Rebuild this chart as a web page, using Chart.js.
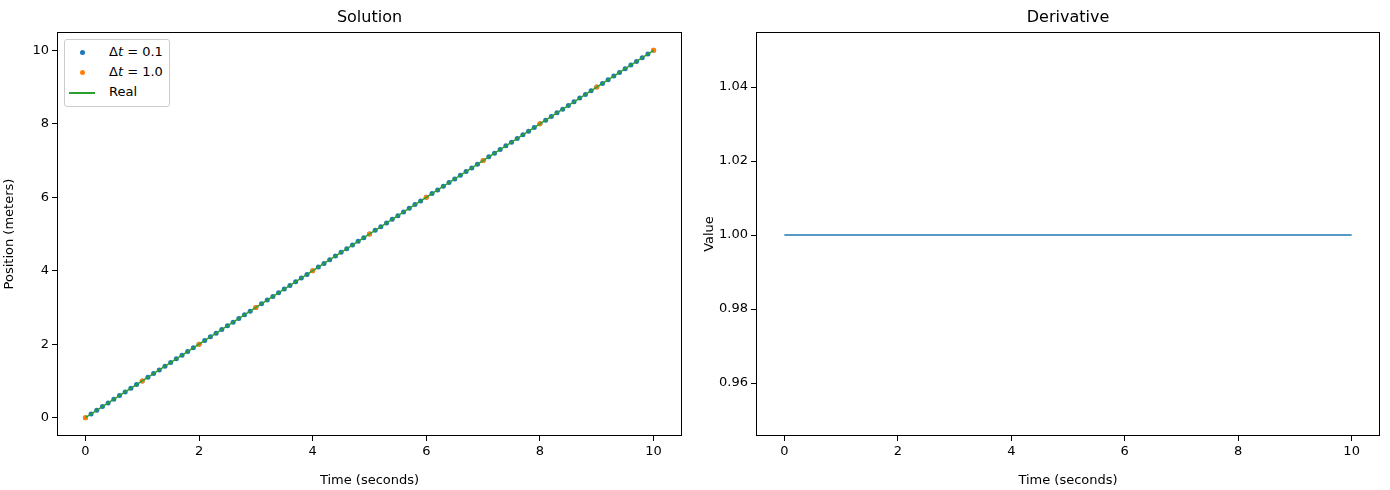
<!DOCTYPE html>
<html>
<head>
<meta charset="utf-8">
<script src="https://cdn.jsdelivr.net/npm/chart.js@4"></script>
<style>
body{margin:0;background:#fff;font-family:"DejaVu Sans",sans-serif;}
.box{position:absolute;top:0;height:490px;}
.ttl{position:absolute;top:7px;font-size:16px;color:#000;text-align:center;}
#legend{position:absolute;left:64px;top:39px;width:104px;height:66px;border:1px solid #ccc;border-radius:3px;background:#fff;font-size:13px;}
#legend div{position:absolute;left:0;height:20px;line-height:20px;}
</style>
</head>
<body>
<div class="box" style="left:0;width:690px"><canvas id="solution"></canvas></div>
<div class="box" style="left:700px;width:690px"><canvas id="derivative"></canvas></div>
<div class="ttl" style="left:57px;width:625px">Solution</div>
<div class="ttl" style="left:756px;width:624px">Derivative</div>
<div id="legend">
  <div style="top:2px"><span style="position:absolute;left:15px;top:8px;width:5px;height:5px;border-radius:50%;background:#1f77b4"></span><span style="position:absolute;left:44px;white-space:nowrap">Δ<i>t</i> = 0.1</span></div>
  <div style="top:22px"><span style="position:absolute;left:15px;top:8px;width:5px;height:5px;border-radius:50%;background:#ff7f0e"></span><span style="position:absolute;left:44px;white-space:nowrap">Δ<i>t</i> = 1.0</span></div>
  <div style="top:42px"><span style="position:absolute;left:4px;top:10px;width:26px;height:2px;background:#2ca02c"></span><span style="position:absolute;left:44px">Real</span></div>
</div>
<script>
// time steps
const tFine = [0,0.1,0.2,0.3,0.4,0.5,0.6,0.7,0.8,0.9,1,1.1,1.2,1.3,1.4,1.5,1.6,1.7,1.8,1.9,2,2.1,2.2,2.3,2.4,2.5,2.6,2.7,2.8,2.9,3,3.1,3.2,3.3,3.4,3.5,3.6,3.7,3.8,3.9,4,4.1,4.2,4.3,4.4,4.5,4.6,4.7,4.8,4.9,5,5.1,5.2,5.3,5.4,5.5,5.6,5.7,5.8,5.9,6,6.1,6.2,6.3,6.4,6.5,6.6,6.7,6.8,6.9,7,7.1,7.2,7.3,7.4,7.5,7.6,7.7,7.8,7.9,8,8.1,8.2,8.3,8.4,8.5,8.6,8.7,8.8,8.9,9,9.1,9.2,9.3,9.4,9.5,9.6,9.7,9.8,9.9,10];
const posFine = tFine.slice(); // position equals time (v = 1)
const tCoarse = [0,1,2,3,4,5,6,7,8,9,10];
const posCoarse = [0,1,2,3,4,5,6,7,8,9,10];
const tReal = [0,10];
const posReal = [0,10];
const tDeriv = [0,10];
const deriv = [1,1];

const xTicks = [0,2,4,6,8,10];
const ySolTicks = [0,2,4,6,8,10];
const yDerTicks = [0.96,0.98,1.00,1.02,1.04];

const font = {family:"DejaVu Sans", size:13};
const pts = (xs, ys) => xs.map((x,i)=>({x:x,y:ys[i]}));

const frame = {
    id:'frame',
    afterDatasetsDraw(chart){
        const a = chart.chartArea, c = chart.ctx;
        c.save(); c.strokeStyle='#000'; c.lineWidth=1;
        c.strokeRect(a.left+0.5,a.top+0.5,a.right-a.left-1,a.bottom-a.top-1);
        c.restore();
    }
};

function makeScale(min,max,ticks,title,side,size){
    return {
        type:'linear', min:min, max:max,
        afterBuildTicks: s => { s.ticks = ticks.map(v=>({value:v})); },
        afterFit: s => { if(side==='x') s.height=size; else s.width=size; },
        grid:{display:true, drawOnChartArea:false, tickLength:5, color:'#000'},
        border:{display:false},
        ticks:{color:'#000', font:font, padding:3,
            callback: v => side==='y' && ticks[0]<1 && ticks[0]>0.5 ? v.toFixed(2) : String(v)},
        title:{display:true, text:title, color:'#000', font:font, padding:{top:2,bottom:2}}
    };
}

function commonOpts(xTitle,yTitle,yMin,yMax,yTicks,yWidth,rightPad){
    return {
        responsive:false, animation:false, devicePixelRatio:1,
        layout:{padding:{top:32,right:rightPad,left:0,bottom:0}},
        plugins:{legend:{display:false}, title:{display:false}, tooltip:{enabled:false}},
        scales:{
            x: makeScale(-0.5,10.5,xTicks,xTitle,'x',54),
            y: makeScale(yMin,yMax,yTicks,yTitle,'y',yWidth)
        }
    };
}

const c1 = document.getElementById('solution');
c1.width=690; c1.height=490;
new Chart(c1,{
    type:'scatter',
    data:{datasets:[
        {data:pts(tReal,posReal), showLine:true, borderColor:'#2ca02c', borderWidth:1.5, pointRadius:0, order:0},
        {data:pts(tCoarse,posCoarse), backgroundColor:'#ff7f0e', borderWidth:0, pointRadius:2.5, order:1},
        {data:pts(tFine,posFine), backgroundColor:'#1f77b4', borderWidth:0, pointRadius:2.5, order:2}
    ]},
    options: commonOpts('Time (seconds)','Position (meters)',-0.5,10.5,ySolTicks,57,8),
    plugins:[frame]
});

const c2 = document.getElementById('derivative');
c2.width=690; c2.height=490;
new Chart(c2,{
    type:'scatter',
    data:{datasets:[
        {data:pts(tDeriv,deriv), showLine:true, borderColor:'#1f77b4', borderWidth:1.5, pointRadius:0}
    ]},
    options: commonOpts('Time (seconds)','Value',0.9457,1.0549,yDerTicks,56,10),
    plugins:[frame]
});
</script>
</body>
</html>
